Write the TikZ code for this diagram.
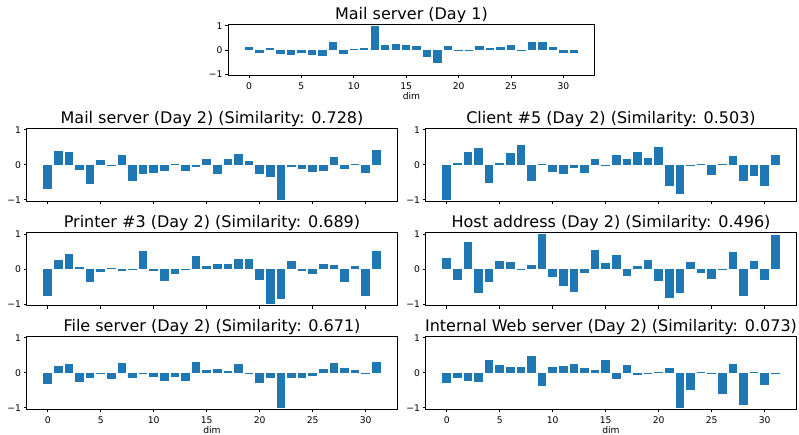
\documentclass[tikz,border=0pt]{standalone}
\usepackage{fontspec}
\setmainfont{DejaVu Sans}
\definecolor{barblue}{HTML}{1F77B4}
\tikzset{
  barfill/.style={fill=barblue},
  axframe/.style={draw=black, line width=0.8pt},
  tickmark/.style={draw=black, line width=0.8pt},
  ticklab/.style={font=\fontsize{9.2}{11}\selectfont, inner sep=0pt},
  ttl/.style={font=\fontsize{16}{19}\selectfont, inner sep=0pt, anchor=base},
}
% #1 x of 0, #2 px per unit x, #3 y of 0, #4 px per unit y, #5 title, #6 values, #7 x labels (1/0), #8 name
\newcommand\barpanel[8]{%
  \pgfmathsetmacro\pnL{#1-1.99*#2}%
  \pgfmathsetmacro\pnR{#1+32.99*#2}%
  \pgfmathsetmacro\pnT{#3-1.045*#4}%
  \pgfmathsetmacro\pnB{#3+1.045*#4}%
  \foreach \v [count=\i from 0] in {#6} {
    \fill[barfill] ({#1+(\i-0.4)*#2},#3) rectangle ({#1+(\i+0.4)*#2},{#3-\v*#4});
  }
  \draw[axframe] (\pnL,\pnT) rectangle (\pnR,\pnB);
  \foreach \t in {0,5,...,30} {
    \draw[tickmark] ({#1+\t*#2},\pnB) -- ++(0,3);
    \ifnum#7=1 \node[ticklab, anchor=base] at ({#1+\t*#2},{\pnB+14}) {\t};\fi
  }
  \foreach \k/\lab in {1/1,0/0,-1/−1} {
    \draw[tickmark] (\pnL,{#3-\k*#4}) -- ++(-3,0);
    \node[ticklab, anchor=east] at ({\pnL-5.5},{#3-\k*#4}) {\lab};
  }
  \node[ttl] (#8) at ({(\pnL+\pnR)/2},{\pnT-5}) {#5};
  \ifnum#7=1 \node[ticklab, anchor=base] (#8-dim) at ({(\pnL+\pnR)/2},{\pnB+24.5}) {dim};\fi
}
\begin{document}
\begin{tikzpicture}[x=1pt,y=-1pt]
\useasboundingbox (0,0) rectangle (799,435);
\barpanel{249}{10.48}{50}{24.3}{Mail server (Day 1)}
 {0.12,-0.11,0.1,-0.15,-0.19,-0.11,-0.2,-0.23,0.32,-0.15,0.03,0.07,1.0,0.2,0.23,0.2,0.15,-0.27,-0.52,0.15,-0.03,-0.03,0.15,0.08,0.12,0.2,-0.03,0.32,0.32,0.12,-0.12,-0.12}{1}{day1}
\barpanel{47.7}{10.6}{164.8}{35}{Mail server (Day 2) (Similarity: 0.728)}
 {-0.69,0.4,0.37,-0.14,-0.54,0.14,-0.03,0.29,-0.46,-0.26,-0.23,-0.17,0.03,-0.17,-0.06,0.17,-0.26,0.17,0.31,0.11,-0.26,-0.34,-1.0,-0.06,-0.11,-0.2,-0.17,0.23,-0.11,0.03,-0.23,0.43}{0}{mail}
\barpanel{446.7}{10.6}{164.8}{35}{Client \#5 (Day 2) (Similarity: 0.503)}
 {-1.0,0.06,0.37,0.49,-0.51,0.06,0.34,0.57,-0.46,0.03,-0.2,-0.26,-0.09,-0.23,0.17,-0.03,0.29,0.17,0.37,0.2,0.51,-0.6,-0.83,-0.03,0.03,-0.29,0.03,0.26,-0.46,-0.31,-0.6,0.29}{0}{client}
\barpanel{47.7}{10.6}{269}{35}{Printer \#3 (Day 2) (Similarity: 0.689)}
 {-0.77,0.26,0.43,0.06,-0.37,-0.09,0.03,-0.06,-0.03,0.51,-0.06,-0.34,-0.14,-0.03,0.37,0.09,0.14,0.14,0.29,0.29,-0.31,-1.0,-0.86,0.23,-0.06,-0.14,0.14,0.11,-0.37,0.09,-0.77,0.51}{0}{printer}
\barpanel{446.7}{10.6}{269}{35}{Host address (Day 2) (Similarity: 0.496)}
 {0.31,-0.31,0.77,-0.69,-0.37,0.23,0.2,-0.03,0.11,1.0,-0.23,-0.49,-0.66,-0.11,0.54,0.17,0.4,-0.2,0.09,0.26,-0.34,-0.83,-0.69,0.2,-0.12,-0.29,-0.03,0.49,-0.77,0.23,-0.31,0.97}{0}{host}
\barpanel{47.7}{10.6}{372.8}{35}{File server (Day 2) (Similarity: 0.671)}
 {-0.32,0.19,0.25,-0.26,-0.14,-0.03,-0.17,0.28,-0.14,-0.02,-0.11,-0.23,-0.11,-0.23,0.31,0.08,0.11,0.04,0.25,-0.02,-0.29,-0.14,-1.0,-0.14,-0.14,-0.08,0.11,0.28,0.14,0.08,-0.02,0.31}{1}{file}
\barpanel{446.7}{10.6}{372.8}{35}{Internal Web server (Day 2) (Similarity: 0.073)}
 {-0.29,-0.14,-0.23,-0.26,0.37,0.22,0.17,0.17,0.48,-0.38,0.17,0.19,0.25,0.14,0.08,0.37,-0.17,0.22,-0.06,-0.02,0.03,0.14,-1.0,-0.49,0.03,-0.02,-0.61,0.25,-0.93,0.03,-0.35,-0.02}{1}{web}
\end{tikzpicture}
\end{document}
